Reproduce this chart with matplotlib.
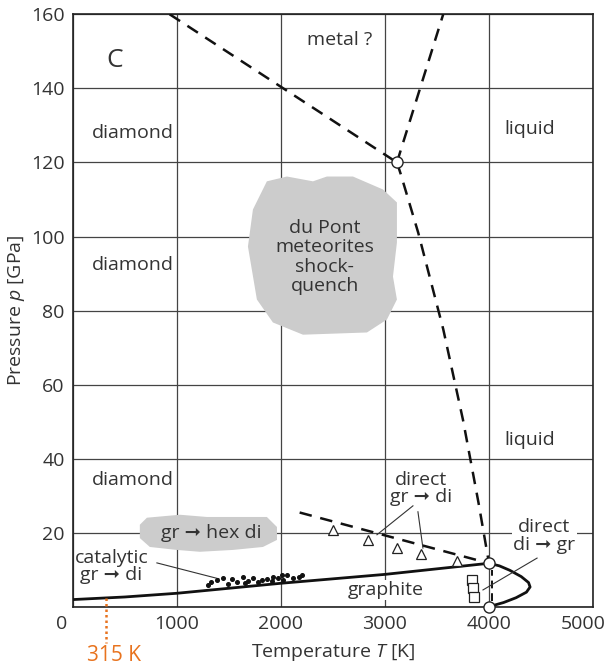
import matplotlib
matplotlib.use("Agg")
import matplotlib.pyplot as plt
from matplotlib.patches import Polygon
from matplotlib.transforms import ScaledTranslation

plt.rcParams["font.family"] = ["Open Sans", "DejaVu Sans"]
plt.rcParams["mathtext.fontset"] = "custom"
plt.rcParams["mathtext.it"] = "Open Sans:italic"
plt.rcParams["mathtext.rm"] = "Open Sans"

TXT = "#333333"
GRID = "#444444"
ORANGE = "#E8731E"

# ---- data (T in K, p in GPa) ----
x_ticks = [0, 1000, 2000, 3000, 4000, 5000]
y_ticks = [0, 20, 40, 60, 80, 100, 120, 140, 160]
y_tick_labels = ["", "20", "40", "60", "80", "100", "120", "140", "160"]

# graphite / diamond equilibrium (solid)
gd_T = [0, 500, 1000, 2000, 3000, 4000]
gd_p = [2.0, 2.7, 3.7, 6.4, 8.8, 11.8]

# graphite melting curve (solid)
gm_T = [4000, 4100, 4200, 4310, 4380, 4395, 4360, 4260, 4140, 4040]
gm_p = [11.8, 11.1, 9.9, 8.2, 6.6, 5.4, 4.0, 2.5, 1.2, 0.4]

# kinetic graphite -> diamond boundary (dashed)
kin_T = [2180, 4000]
kin_p = [25.5, 11.8]

# diamond / metal boundary (dashed)
dm_T = [930, 3115]
dm_p = [160, 120]

# metal / liquid boundary (dashed)
ml_T = [3115, 3560]
ml_p = [120, 160]

# diamond melting curve (dashed)
dl_T = [3115, 3150, 3320, 3560, 3750, 3900, 4000]
dl_p = [120, 117, 101, 75, 50.5, 28, 11.8]

# di -> gr dashed marker near 4000 K
dg_T = [4030, 4030]
dg_p = [1.5, 10.0]

# triple / special points
pts_T = [3115, 4000, 4000]
pts_p = [120, 11.8, 0]

# direct gr -> di experiments
tri_T = [2500, 2837, 3115, 3346, 3690]
tri_p = [20.8, 18.1, 15.9, 14.3, 12.4]

# direct di -> gr experiments
sq_T = [3837, 3846, 3856]
sq_p = [7.3, 5.1, 2.7]

# catalytic synthesis points
cat_T = [1300, 1324, 1381, 1440, 1494, 1526, 1574, 1632, 1654, 1686, 1734, 1782,
         1814, 1862, 1911, 1926, 1974, 2006, 2022, 2061, 2118, 2170, 2200]
cat_p = [6.0, 6.7, 7.2, 7.9, 6.2, 7.6, 6.8, 8.2, 6.4, 7.0, 7.8, 6.7,
         7.3, 7.6, 7.0, 8.2, 7.8, 8.6, 7.3, 8.5, 7.8, 8.0, 8.5]

# shock-quench field (du Pont / meteorites)
shock_T = [1865, 2058, 2308, 2442, 2692, 2981, 3115, 3115, 3077, 3115, 3019,
           2827, 2212, 1923, 1769, 1683, 1731]
shock_p = [114.9, 116.2, 114.9, 116.2, 116.2, 112.7, 109.2, 98.4, 89.2, 83.0,
           77.6, 74.1, 73.5, 76.8, 83.0, 97.3, 107.3]

# graphite -> hexagonal diamond field
hex_T = [644, 712, 1029, 1288, 1865, 1962, 1962, 1827, 1538, 1221, 1000, 740, 644]
hex_p = [22.2, 24.1, 24.9, 24.3, 24.3, 21.6, 18.1, 16.2, 15.4, 14.9, 15.4, 16.2, 18.6]

room_T = 315

# ---- figure ----
fig = plt.figure(figsize=(6.07, 6.69), dpi=100)
ax = fig.add_axes([0.120, 0.0927, 0.857, 0.886])
ax.set_xlim(0, 5000)
ax.set_ylim(0, 160)
ax.set_xticks(x_ticks)
ax.set_yticks(y_ticks)
ax.set_yticklabels(y_tick_labels)
ax.grid(True, color=GRID, lw=0.9, zorder=0)
ax.set_axisbelow(True)
for s in ax.spines.values():
    s.set_color("#222222")
    s.set_linewidth(1.2)
ax.tick_params(length=0, pad=6, labelsize=14, labelcolor=TXT)
ax.set_xlabel("Temperature $\\mathit{T}$ [K]", fontsize=14, color=TXT, labelpad=6)
ax.set_ylabel("Pressure $\\mathit{p}$ [GPa]", fontsize=14, color=TXT, labelpad=3)

# nudge the end labels of the temperature axis inward/outward
xl = ax.get_xticklabels()
xl[0].set_transform(xl[0].get_transform() + ScaledTranslation(-0.11, 0, fig.dpi_scale_trans))
xl[-1].set_transform(xl[-1].get_transform() + ScaledTranslation(-0.10, 0, fig.dpi_scale_trans))

# shaded fields
ax.add_patch(Polygon(list(zip(shock_T, shock_p)), closed=True, fc="#cccccc", ec="none", zorder=1))
ax.add_patch(Polygon(list(zip(hex_T, hex_p)), closed=True, fc="#cccccc", ec="none", zorder=1))

# phase boundaries
dash = dict(color="#111111", lw=1.8, ls=(0, (5, 3.5)), zorder=3)
ax.plot(dm_T, dm_p, **dash)
ax.plot(ml_T, ml_p, **dash)
ax.plot(dl_T, dl_p, **dash)
ax.plot(kin_T, kin_p, **dash)
ax.plot(dg_T, dg_p, color="#111111", lw=1.4, ls=(0, (4, 2.5)), zorder=3)
ax.plot(gd_T, gd_p, color="#111111", lw=2.0, zorder=4)
ax.plot(gm_T, gm_p, color="#111111", lw=2.0, zorder=4, solid_capstyle="round")

# experiments
ax.plot(cat_T, cat_p, ls="none", marker="o", ms=2.6, color="#111111", zorder=5)
ax.plot(tri_T, tri_p, ls="none", marker="^", ms=7, mfc="white", mec="#222222", mew=0.9, zorder=5)
ax.plot(sq_T, sq_p, ls="none", marker="s", ms=7, mfc="white", mec="#222222", mew=0.9, zorder=5)
ax.plot(pts_T, pts_p, ls="none", marker="o", ms=8, mfc="white", mec="#222222", mew=1.0,
        zorder=6, clip_on=False)

# 315 K marker
ax.plot([room_T, room_T], [2.3, -9.8], color=ORANGE, lw=1.8, ls=(0, (1, 1.2)),
        clip_on=False, zorder=5)
ax.text(394, -13, "315 K", color=ORANGE, fontsize=15, ha="center", va="center", clip_on=False)

# region labels
lab = dict(fontsize=14, color=TXT, ha="center", va="center", zorder=7)
ax.text(404, 147.6, "C", fontsize=19, color=TXT, ha="center", va="center")
ax.text(2560, 153, "metal ?", **lab)
ax.text(580, 128, "diamond", **lab)
ax.text(580, 92.4, "diamond", **lab)
ax.text(580, 34.3, "diamond", **lab)
ax.text(4390, 129, "liquid", **lab)
ax.text(4390, 45, "liquid", **lab)
ax.text(2420, 94.5, "du Pont\nmeteorites\nshock-\nquench", linespacing=1.1, **lab)
ax.text(1330, 20, "gr \u279e hex di", **lab)
ax.text(3010, 4.6, "graphite", bbox=dict(fc="white", ec="none", pad=1), **lab)
ax.text(370, 10.9, "catalytic\ngr \u279e di", linespacing=0.95, **lab)
ax.text(3350, 32, "direct\ngr \u279e di", linespacing=0.95, **lab)
ax.text(4530, 19.2, "direct\ndi \u279e gr", linespacing=0.95,
        bbox=dict(fc="white", ec="none", pad=1), **lab)

# leader lines
lead = dict(color="#333333", lw=0.8, zorder=4)
ax.plot([808, 1404], [11.9, 7.6], **lead)
ax.plot([3269, 2923], [27.3, 19.5], **lead)
ax.plot([3317, 3365], [25.7, 15.9], **lead)
ax.plot([4462, 3942], [13.2, 4.6], **lead)

fig.savefig("out.png", dpi=100)
